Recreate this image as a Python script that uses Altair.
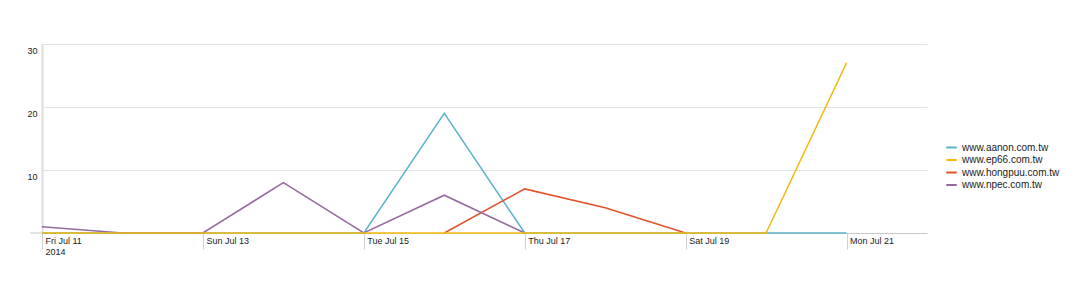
import altair as alt
import pandas as pd

dates = ["2014-07-11", "2014-07-12", "2014-07-13", "2014-07-14", "2014-07-15", "2014-07-16",
         "2014-07-17", "2014-07-18", "2014-07-19", "2014-07-20", "2014-07-21"]
series_names = ["www.aanon.com.tw", "www.ep66.com.tw", "www.hongpuu.com.tw", "www.npec.com.tw"]
colors = ["#5bb4c6", "#f7b90f", "#e4522b", "#95699f"]
aanon = [0, 0, 0, 0, 0, 19, 0, 0, 0, 0, 0]
ep66 = [0, 0, 0, 0, 0, 0, 0, 0, 0, 0, 27]
hongpuu = [None, None, None, None, None, 0, 7, 4, 0, None, None]
npec = [1, 0, 0, 8, 0, 6, 0, None, None, None, None]

# draw order: ep66 last so it sits on top at zero
draw_order = [("www.aanon.com.tw", aanon), ("www.hongpuu.com.tw", hongpuu),
              ("www.npec.com.tw", npec), ("www.ep66.com.tw", ep66)]
rows = []
for name, vals in draw_order:
    for d, v in zip(dates, vals):
        if v is not None:
            rows.append({"date": d, "site": name, "value": v})
df = pd.DataFrame(rows)

FONT = "Liberation Sans"
W, H = 885, 189

tick_vals = [alt.DateTime(year=2014, month=7, date=d, utc=True) for d in [11, 13, 15, 17, 19, 21]]

x = alt.X("date:T",
          scale=alt.Scale(type="utc",
                          domain=[alt.DateTime(year=2014, month=7, date=11, utc=True),
                                  alt.DateTime(year=2014, month=7, date=22, utc=True)]),
          axis=alt.Axis(title=None, values=tick_vals, grid=False,
                        labelExpr="utcdate(datum.value) == 11 ? [utcFormat(datum.value, '%a %b %d'), '2014'] : utcFormat(datum.value, '%a %b %d')",
                        labelAlign="left", labelBaseline="top", labelPadding=-13, labelOffset=3,
                        tickSize=16, tickColor="#d0d0d0", domainColor="#c8c8c8",
                        labelFont=FONT, labelFontSize=9, labelColor="#222",
                        labelLineHeight=11, labelFlush=False, labelOverlap=False))
y = alt.Y("value:Q",
          scale=alt.Scale(domain=[0, 30], nice=False),
          axis=alt.Axis(title=None, values=[10, 20, 30], ticks=False,
                        labelAlign="right", labelBaseline="top", labelPadding=5, labelOffset=2,
                        gridColor="#e2e2e2", domainColor="#dcdcdc", domainWidth=2,
                        labelFont=FONT, labelFontSize=9, labelColor="#222"))

lines = alt.Chart(df).mark_line(strokeWidth=1.5).encode(
    x=x, y=y,
    color=alt.Color("site:N",
                    scale=alt.Scale(domain=series_names, range=colors),
                    legend=alt.Legend(title=None, orient="none", legendX=903, legendY=97,
                                      symbolType="stroke", symbolSize=110, symbolStrokeWidth=2,
                                      labelFont=FONT, labelFontSize=10, labelColor="#222",
                                      labelOffset=4, rowPadding=0.5, padding=0)),
    detail="site:N",
)

zero_rule = alt.Chart(pd.DataFrame({"v": [0]})).mark_rule(color="#c8c8c8", strokeWidth=1).encode(
    x=alt.value(-12), x2=alt.value(0), y=alt.Y("v:Q", scale=alt.Scale(domain=[0, 30], nice=False))
)

chart = alt.layer(zero_rule, lines).properties(
    width=W, height=H,
    autosize=alt.AutoSizeParams(type="none"),
    padding={"left": 42, "top": 44, "right": 161, "bottom": 61},
    background="white",
).configure_view(stroke=None)

chart.save("out.html", embed_options={"renderer": "svg", "actions": False})
